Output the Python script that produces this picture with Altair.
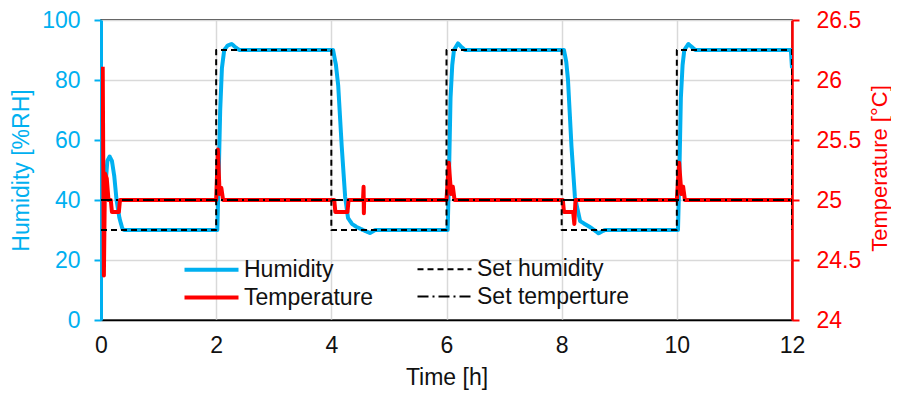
import altair as alt
import pandas as pd

# ---------------- data ----------------
hum_t = [0.09, 0.11, 0.15, 0.19, 0.23, 0.27, 0.32, 0.37, 0.40,
         2.02, 2.04, 2.07, 2.10, 2.14, 2.20, 2.27, 2.33, 2.40,
         4.03, 4.08, 4.12, 4.18, 4.24, 4.29, 4.36, 4.44, 4.55, 4.67, 4.76, 4.80,
         6.02, 6.04, 6.07, 6.10, 6.13, 6.20, 6.26, 6.32,
         8.04, 8.08, 8.11, 8.17, 8.23, 8.32, 8.40, 8.49, 8.60, 8.64, 8.75, 8.80,
         10.02, 10.04, 10.07, 10.10, 10.13, 10.20, 10.26, 10.32,
         11.98, 12.00]
hum_v = [48, 53, 54.5, 53, 48, 40, 34, 30.5, 30,
         30, 45, 70, 84, 90, 91.5, 92, 91, 90,
         90, 85, 78, 58, 41, 34, 32, 31, 30, 29, 30, 30,
         30, 45, 74, 85, 90, 92.2, 91, 90,
         90, 86, 80, 58, 41, 33, 32, 31, 29.5, 28.9, 30, 30,
         30, 45, 74, 85, 90, 92, 91, 90,
         90, 84]

temp_t = [0.03, 0.05, 0.07, 0.10, 0.13, 0.17, 0.19, 0.31, 0.33,
          2.00, 2.03, 2.06, 2.09, 2.12,
          4.05, 4.07, 4.28, 4.30, 4.55, 4.56, 4.565, 4.57,
          6.00, 6.04, 6.08, 6.11, 6.14,
          8.02, 8.04, 8.20, 8.22, 8.24,
          10.00, 10.04, 10.08, 10.11, 10.14,
          12.00]
temp_v = [26.11, 24.37, 25.22, 25.18, 25.0, 25.0, 24.9, 24.9, 25.0,
          25.0, 25.42, 25.05, 25.10, 25.0,
          25.0, 24.9, 24.9, 25.0, 25.0, 25.11, 24.89, 25.0,
          25.0, 25.31, 25.05, 25.11, 25.0,
          25.0, 24.9, 24.9, 24.8, 25.0,
          25.0, 25.31, 25.05, 25.11, 25.0,
          25.0]

set_hum_t = [0, 2, 2, 4, 4, 6, 6, 8, 8, 10, 10, 12, 12]
set_hum_v = [30, 30, 90, 90, 30, 30, 90, 90, 30, 30, 90, 90, 30]

set_temp_t = [0, 12]
set_temp_v = [25, 25]

# legend order (filled column by column: Humidity/Temperature, then the set values)
SERIES = ["Humidity", "Temperature", "Set humidity", "Set temperture"]
COLORS = ["#00B0F0", "#FF0000", "#000000", "#000000"]
DASHES = [[1, 0], [1, 0], [6, 4], [11, 4, 2, 4]]
WIDTHS = [4, 4, 2, 2]

x_ticks = [0, 2, 4, 6, 8, 10, 12]
hum_ticks = [0, 20, 40, 60, 80, 100]
temp_ticks = [24, 24.5, 25, 25.5, 26, 26.5]

BLUE = "#00B0F0"
RED = "#FF0000"
FONT = "Liberation Sans"
FS = 23


def frame(t, v, name):
    return pd.DataFrame({"t": t, "v": v, "series": name, "i": list(range(len(t)))})


df_h = frame(hum_t, hum_v, "Humidity")
df_sh = frame(set_hum_t, set_hum_v, "Set humidity")
df_t = frame(temp_t, temp_v, "Temperature")
df_st = frame(set_temp_t, set_temp_v, "Set temperture")

x_enc = alt.X(
    "t:Q",
    scale=alt.Scale(domain=[0, 12], nice=False),
    axis=alt.Axis(
        values=x_ticks, title="Time [h]", ticks=False, labelPadding=14,
        labelFlush=False, titlePadding=9, grid=True, gridColor="#D9D9D9",
        gridWidth=1.5, domainColor="#000000", domainWidth=1.5,
        labelColor="#111111", titleColor="#111111",
        labelFontSize=FS, titleFontSize=FS, labelFont=FONT, titleFont=FONT,
        titleFontWeight="normal",
    ),
)

color_enc = alt.Color(
    "series:N",
    scale=alt.Scale(domain=SERIES, range=COLORS),
    legend=alt.Legend(
        title=None, orient="none", legendX=95, legendY=234, columns=2,
        symbolType="M-2,0H2", symbolSize=729, labelOffset=17,
        labelFontSize=FS, labelFont=FONT, labelColor="#111111",
        rowPadding=-3, columnPadding=39,
    ),
)
dash_enc = alt.StrokeDash("series:N", scale=alt.Scale(domain=SERIES, range=DASHES))
width_enc = alt.StrokeWidth("series:N", scale=alt.Scale(type="ordinal", domain=SERIES, range=WIDTHS))
order_enc = alt.Order("i:Q")

hum_axis = alt.Axis(
    orient="left", values=hum_ticks, title="Humidity [%RH]",
    tickSize=7, tickWidth=2, tickColor=BLUE, labelPadding=14,
    labelColor=BLUE, titleColor=BLUE, domainColor=BLUE, domainWidth=3,
    grid=True, gridColor="#D9D9D9", gridWidth=1.5, titlePadding=8,
    labelFontSize=FS, titleFontSize=FS, labelFont=FONT, titleFont=FONT,
    titleFontWeight="normal",
)
temp_axis = alt.Axis(
    orient="right", values=temp_ticks, format="~g", title="Temperature [°C]",
    tickSize=7, tickWidth=2, tickColor=RED, labelPadding=17,
    labelColor=RED, titleColor=RED, domainColor=RED, domainWidth=2.5,
    grid=False, titleAngle=270, titleBaseline="middle", titleAlign="center",
    titleX=87, titleY=148,
    labelFontSize=FS, titleFontSize=22, labelFont=FONT, titleFont=FONT,
    titleFontWeight="normal",
)

hum_scale = alt.Scale(domain=[0, 100], nice=False, zero=False)
temp_scale = alt.Scale(domain=[24, 26.5], nice=False, zero=False)

line_props = dict(strokeJoin="round", strokeCap="butt", clip=True)

humidity = alt.Chart(df_h).mark_line(**line_props).encode(
    x=x_enc, y=alt.Y("v:Q", scale=hum_scale, axis=hum_axis),
    color=color_enc, strokeDash=dash_enc, strokeWidth=width_enc, order=order_enc,
)
temperature = alt.Chart(df_t).mark_line(**line_props).encode(
    x=x_enc, y=alt.Y("v:Q", scale=temp_scale, axis=temp_axis),
    color=color_enc, strokeDash=dash_enc, strokeWidth=width_enc, order=order_enc,
)
set_humidity = alt.Chart(df_sh).mark_line(**line_props).encode(
    x=x_enc, y=alt.Y("v:Q", scale=hum_scale, axis=None),
    color=color_enc, strokeDash=dash_enc, strokeWidth=width_enc, order=order_enc,
)
set_temperature = alt.Chart(df_st).mark_line(**line_props).encode(
    x=x_enc, y=alt.Y("v:Q", scale=temp_scale, axis=None),
    color=color_enc, strokeDash=dash_enc, strokeWidth=width_enc, order=order_enc,
)

chart = (
    alt.layer(humidity, temperature, set_humidity, set_temperature)
    .resolve_scale(y="independent")
    .properties(
        width=691, height=300,
        autosize=alt.AutoSizeParams(type="none"),
        padding={"left": 93, "top": 12, "right": 99, "bottom": 71},
    )
    .configure_view(stroke="#000000", strokeWidth=1.5)
)

chart.save("out.html", embed_options={"renderer": "svg", "actions": False})
